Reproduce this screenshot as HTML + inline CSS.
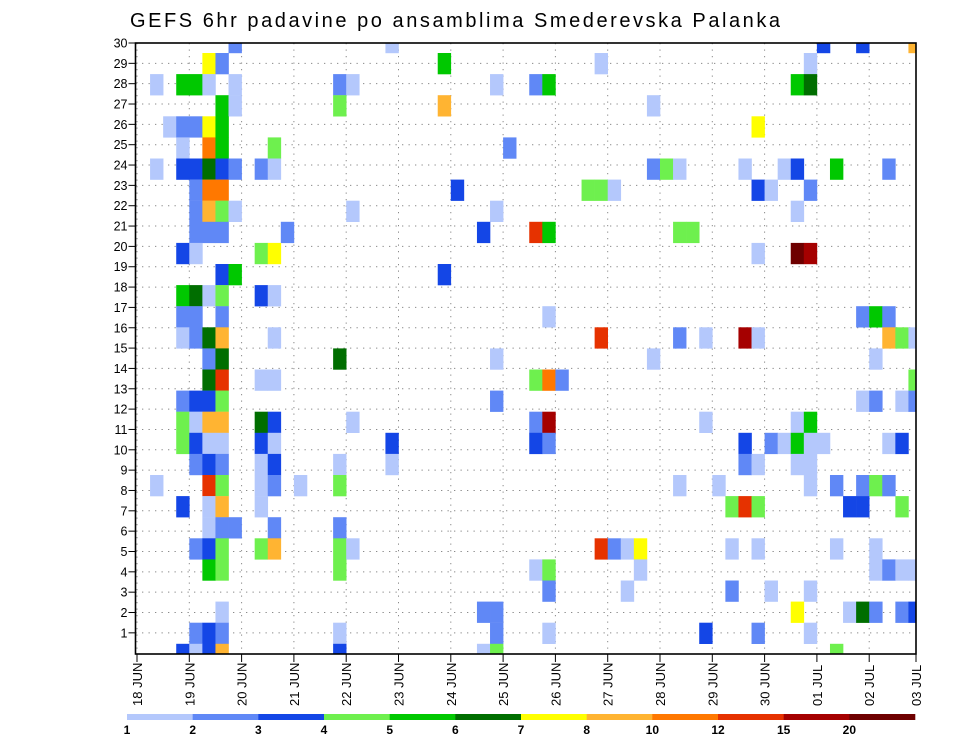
<!DOCTYPE html>
<html><head><meta charset="utf-8"><title>GEFS 6hr padavine</title>
<style>
html,body{margin:0;padding:0;background:#fff;}
svg{display:block;font-family:"Liberation Sans",sans-serif;}
</style></head>
<body>
<svg id="chart" width="960" height="742" viewBox="0 0 960 742" xmlns="http://www.w3.org/2000/svg">
<defs><clipPath id="plotclip"><rect x="135.5" y="43" width="780.5" height="611"/></clipPath></defs>
<rect x="0" y="0" width="960" height="742" fill="#fff"/>
<text x="130" y="27" font-size="20" textLength="650" lengthAdjust="spacing" fill="#000">GEFS 6hr padavine po ansamblima Smederevska Palanka</text>
<g id="grid"></g>
<g id="cells" clip-path="url(#plotclip)"></g>
<g id="axes"></g>
<g id="legend"></g>
</svg>
<script>
// ---- data ----
// day tick labels (x axis)
const dayLabels = ["18 JUN","19 JUN","20 JUN","21 JUN","22 JUN","23 JUN","24 JUN","25 JUN","26 JUN","27 JUN","28 JUN","29 JUN","30 JUN","01 JUL","02 JUL","03 JUL"];
// member tick labels (y axis)
const memberLabels = [1,2,3,4,5,6,7,8,9,10,11,12,13,14,15,16,17,18,19,20,21,22,23,24,25,26,27,28,29,30];
// legend levels (mm)
const levels = [1,2,3,4,5,6,7,8,10,12,15,20];
const levelColors = ["#b4c8fc","#6088f6","#1446e6","#6ef04e","#00c800","#006e00","#ffff00","#ffb432","#ff7800","#e63200","#a50000","#6e0000"];
// cells: row index from top (0 = member 30 partial row), 6h step index from 18 JUN 00z, precipitation value
const cellRows = [
0,0,0,0,0,
1,1,1,1,1,
2,2,2,2,2,2,2,2,2,2,2,2,
3,3,3,3,3,
4,4,4,4,4,4,
5,5,5,5,5,
6,6,6,6,6,6,6,6,6,6,6,6,6,6,6,6,
7,7,7,7,7,7,7,7,7,7,
8,8,8,8,8,8,8,
9,9,9,9,9,9,9,9,9,
10,10,10,10,10,10,10,
11,11,11,
12,12,12,12,12,12,
13,13,13,13,13,13,13,
14,14,14,14,14,14,14,14,14,14,14,14,14,
15,15,15,15,15,15,
16,16,16,16,16,16,16,16,
17,17,17,17,17,17,17,17,17,
18,18,18,18,18,18,18,18,18,18,18,18,
19,19,19,19,19,19,19,19,19,19,19,19,19,19,19,19,19,
20,20,20,20,20,20,20,20,20,20,20,
21,21,21,21,21,21,21,21,21,21,21,21,21,21,
22,22,22,22,22,22,22,22,22,22,
23,23,23,23,23,
24,24,24,24,24,24,24,24,24,24,24,24,24,24,24,
25,25,25,25,25,25,25,25,25,25,
26,26,26,26,26,
27,27,27,27,27,27,27,27,27,
28,28,28,28,28,28,28,28,28,
29,29,29,29,29,29,29,29];
const cellSteps = [
7,19,52,55,59,
5,6,23,35,51,
1,3,4,5,7,15,16,27,30,31,50,51,
6,7,15,23,39,
2,3,4,5,6,47,
3,5,6,10,28,
1,3,4,5,6,7,9,10,39,40,41,46,49,50,53,57,
4,5,6,24,34,35,36,47,48,51,
4,5,6,7,16,27,50,
4,5,6,11,26,30,31,41,42,
3,4,9,10,47,50,51,
6,7,23,
3,4,5,6,9,10,
3,4,6,31,55,56,57,
3,4,5,6,10,35,41,43,46,47,57,58,59,
5,6,15,27,39,56,
5,6,9,10,30,31,32,59,
3,4,5,6,27,55,56,58,59,
3,4,5,6,9,10,16,30,31,43,50,51,
3,4,5,6,9,10,19,30,31,46,48,49,50,51,52,57,58,
4,5,6,9,10,15,19,46,47,50,51,
1,5,6,9,10,12,15,41,44,51,53,55,56,57,
3,5,6,9,45,46,47,54,55,58,
5,6,7,10,15,
4,5,6,9,10,15,16,35,36,37,38,45,47,53,56,
5,6,15,30,31,38,56,57,58,59,
31,37,45,48,51,
6,26,27,50,54,55,56,58,59,
4,5,6,15,27,31,43,47,51,
3,4,5,6,15,26,27,53];
const cellValues = [
2.5,1.5,3.5,3.5,9,
7.5,2.5,5.5,1.5,1.5,
1.5,5.5,5.5,1.5,1.5,2.5,1.5,1.5,2.5,5.5,5.5,6.5,
5.5,1.5,4.5,9,1.5,
1.5,2.5,2.5,7.5,5.5,7.5,
1.5,11,5.5,4.5,2.5,
1.5,3.5,3.5,6.5,3.5,2.5,2.5,1.5,2.5,4.5,1.5,1.5,1.5,3.5,5.5,2.5,
2.5,11,11,3.5,4.5,4.5,1.5,3.5,1.5,2.5,
2.5,9,4.5,1.5,1.5,1.5,1.5,
2.5,2.5,2.5,2.5,3.5,13.5,5.5,4.5,4.5,
3.5,1.5,4.5,7.5,1.5,25,17.5,
3.5,5.5,3.5,
5.5,6.5,1.5,4.5,3.5,1.5,
2.5,2.5,2.5,1.5,2.5,5.5,2.5,
1.5,2.5,6.5,9,1.5,13.5,2.5,1.5,17.5,1.5,9,4.5,1.5,
2.5,6.5,6.5,1.5,1.5,1.5,
6.5,13.5,1.5,1.5,4.5,11,2.5,4.5,
2.5,3.5,3.5,4.5,2.5,1.5,2.5,1.5,2.5,
4.5,1.5,9,9,6.5,3.5,1.5,2.5,17.5,1.5,1.5,5.5,
4.5,3.5,1.5,1.5,3.5,1.5,3.5,3.5,2.5,3.5,2.5,1.5,5.5,1.5,1.5,1.5,3.5,
2.5,3.5,2.5,1.5,3.5,1.5,1.5,2.5,1.5,1.5,1.5,
1.5,13.5,4.5,1.5,2.5,1.5,4.5,1.5,1.5,1.5,2.5,2.5,4.5,2.5,
3.5,1.5,9,1.5,4.5,13.5,4.5,3.5,3.5,4.5,
1.5,2.5,2.5,2.5,2.5,
2.5,3.5,4.5,4.5,9,4.5,1.5,13.5,2.5,1.5,7.5,1.5,1.5,1.5,1.5,
5.5,4.5,4.5,1.5,4.5,1.5,1.5,2.5,1.5,1.5,
2.5,1.5,2.5,1.5,1.5,
1.5,2.5,2.5,7.5,1.5,6.5,2.5,2.5,3.5,
2.5,3.5,2.5,1.5,2.5,1.5,3.5,2.5,1.5,
3.5,1.5,3.5,9,3.5,1.5,4.5,4.5];

// ---- geometry ----
const NS = "http://www.w3.org/2000/svg";
const plotL = 135.5, plotR = 916, plotT = 43, plotB = 654;
const dayW = 52.3, dayX0 = 137;
const stepW = dayW / 4;
function xDay(d){ return Math.min(plotR, dayX0 + d * dayW); }
function xStep(k){ return dayX0 + k * stepW; }
function yMember(m){ return plotT + (30 - m) * (plotB - plotT - 20.34 * 0) / 30.04; }
function rowTop(i){ return i === 0 ? plotT : 53 + (i - 1) * 21.1; }
function rowBottom(i){ return i === 0 ? 53 : Math.min(plotB, 53 + i * 21.1); }
function colorFor(v){
  let c = null;
  for (let j = 0; j < levels.length; j++){ if (v >= levels[j]) c = levelColors[j]; }
  return c;
}
function mk(tag, attrs, parent){
  const el = document.createElementNS(NS, tag);
  for (const a in attrs) el.setAttribute(a, attrs[a]);
  parent.appendChild(el);
  return el;
}

// ---- grid ----
const grid = document.getElementById("grid");
memberLabels.forEach(m => {
  const y = yMember(m);
  const ln = mk("line", {x1: plotL, x2: plotR, y1: y, y2: y, stroke: "#8a8a8a", "stroke-width": 1, "stroke-dasharray": "1.3 5.2"}, grid);
  
  
});
dayLabels.forEach((d, i) => {
  const x = xDay(i);
  const ln = mk("line", {x1: x, x2: x, y1: plotT, y2: plotB, stroke: "#8a8a8a", "stroke-width": 1, "stroke-dasharray": "1.3 5.2"}, grid);
  
  
});

// ---- cells ----
const cells = document.getElementById("cells");
for (let n = 0; n < cellValues.length; n++){
  const i = cellRows[n], k = cellSteps[n];
  const col = colorFor(cellValues[n]);
  if (!col) continue;
  const x = xStep(k), y = rowTop(i);
  const r = mk("rect", {x: x, y: y, width: stepW + 0.3, height: rowBottom(i) - y + 0.2, fill: col}, cells);
  
  
}

// ---- axes ----
const axes = document.getElementById("axes");
const frame = mk("rect", {x: plotL, y: plotT, width: plotR - plotL, height: plotB - plotT, fill: "none", stroke: "#000", "stroke-width": 1.6}, axes);


memberLabels.forEach(m => {
  const y = yMember(m);
  const t = mk("line", {x1: plotL - 7, x2: plotL, y1: y, y2: y, stroke: "#000", "stroke-width": 1}, axes);
  
  
  const tx = mk("text", {x: plotL - 8, y: y + 4.5, "font-size": 12.5, "text-anchor": "end", fill: "#000"}, axes);
  tx.textContent = m;
  
  
});
dayLabels.forEach((d, i) => {
  const x = xDay(i);
  const t = mk("line", {x1: x, x2: x, y1: plotB, y2: plotB + 8, stroke: "#000", "stroke-width": 1}, axes);
  
  
  const tx = mk("text", {x: 0, y: 0, "font-size": 13, fill: "#000", transform: "translate(" + (x + 5) + ",706) rotate(-90)"}, axes);
  tx.textContent = d;
  
  
});

// ---- legend ----
const legend = document.getElementById("legend");
const legL = 127, legR = 915, legY = 714, legH = 6;
const segW = (legR - legL) / levels.length;
levels.forEach((lv, j) => {
  const r = mk("rect", {x: legL + j * segW, y: legY, width: segW + 0.3, height: legH, fill: levelColors[j]}, legend);
  
  
  const t = mk("text", {x: legL + j * segW, y: 734, "font-size": 12, "font-weight": "bold", "text-anchor": "middle", fill: "#000"}, legend);
  t.textContent = lv;
  
  
});
</script>
</body></html>
